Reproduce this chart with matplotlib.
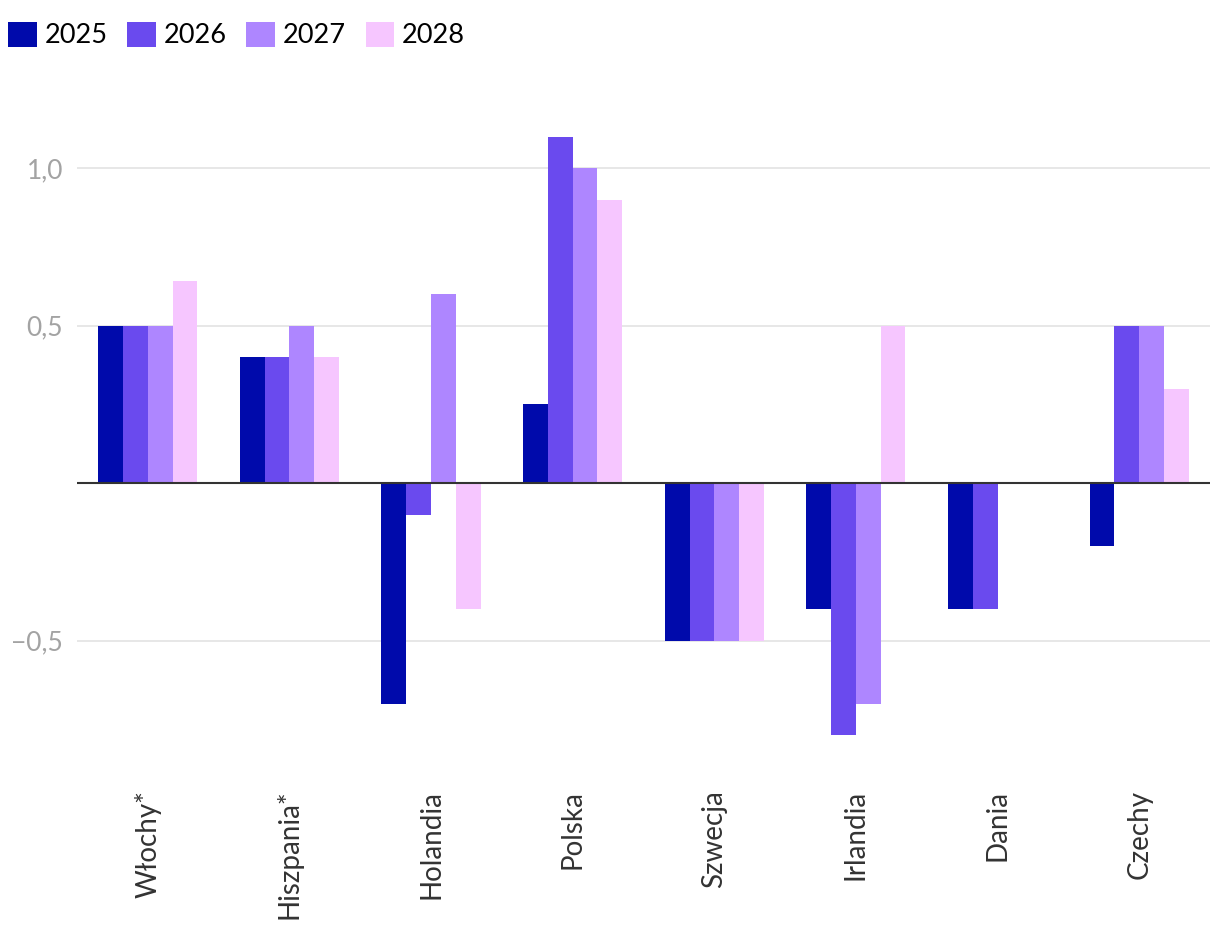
import numpy as np
import matplotlib.pyplot as plt
from matplotlib.patches import Patch

countries = ['Włochy*', 'Hiszpania*', 'Holandia', 'Polska', 'Szwecja', 'Irlandia', 'Dania', 'Czechy']
years = ['2025', '2026', '2027', '2028']
v2025 = [0.5, 0.4, -0.7, 0.25, -0.5, -0.4, -0.4, -0.2]
v2026 = [0.5, 0.4, -0.1, 1.1, -0.5, -0.8, -0.4, 0.5]
v2027 = [0.5, 0.5, 0.6, 1.0, -0.5, -0.7, 0.0, 0.5]
v2028 = [0.64, 0.4, -0.4, 0.9, -0.5, 0.5, 0.0, 0.3]
yticks = [-0.5, 0.5, 1.0]
ytick_labels = ['\u22120,5', '0,5', '1,0']

colors = ['#000AAB', '#6A4AEE', '#AE86FF', '#F6C6FF']

fig = plt.figure(figsize=(12.2, 9.42), dpi=100)
ax = fig.add_axes([0.0631, 0.2028, 0.9287, 0.6857])

x = np.arange(len(countries))
w = 0.175
series = [v2025, v2026, v2027, v2028]
for i, vals in enumerate(series):
    ax.bar(x + (i - 1.5) * w, vals, width=w, color=colors[i], linewidth=0, zorder=3)

ax.set_xlim(-0.5, 7.5)
ax.set_ylim(-0.85, 1.2)
ax.set_yticks(yticks)
ax.set_yticklabels(ytick_labels, fontfamily='Lato', fontsize=19, color='#a3a3a3')
ax.grid(axis='y', color='#e3e3e3', linewidth=1.2, zorder=0)
ax.axhline(0, color='#333333', linewidth=1.5, zorder=4)

ax.set_xticks(x)
ax.set_xticklabels(countries, rotation=90, fontfamily='Lato', fontsize=20, color='#333333',
                   ha='center', va='top')
ax.tick_params(axis='x', length=0, pad=28)
ax.tick_params(axis='y', length=0, pad=10)
for s in ax.spines.values():
    s.set_visible(False)

handles = [Patch(facecolor=c, edgecolor='none', label=y) for c, y in zip(colors, years)]
fig.legend(handles=handles, loc='upper left', bbox_to_anchor=(-0.011, 1.0), ncol=4, frameon=False,
           prop={'family': 'Lato', 'size': 19.5}, handlelength=1.05, handleheight=1.05,
           handletextpad=0.28, columnspacing=0.74, borderaxespad=0.4)

fig.savefig('out.png', dpi=100)
